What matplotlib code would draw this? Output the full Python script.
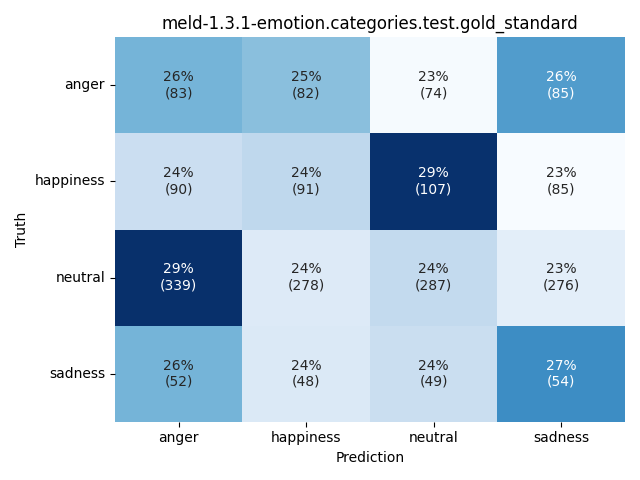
import numpy as np
import matplotlib
matplotlib.use('Agg')
import matplotlib.pyplot as plt
import seaborn as sns

# confusion matrix counts (rows = truth, cols = prediction)
labels = ['anger', 'happiness', 'neutral', 'sadness']
counts = np.array([
    [83, 82, 74, 85],
    [90, 91, 107, 85],
    [339, 278, 287, 276],
    [52, 48, 49, 54],
])

# row-normalised percentages
pct = counts / counts.sum(axis=1, keepdims=True) * 100
annot = np.array([[f"{p:.0f}%\n({c})" for p, c in zip(prow, crow)]
                  for prow, crow in zip(pct, counts)])

fig, ax = plt.subplots(figsize=(6.4, 4.8), dpi=100)
sns.heatmap(pct, annot=annot, fmt='', cmap='Blues', cbar=False,
            xticklabels=labels, yticklabels=labels, ax=ax)
ax.set_yticklabels(labels, rotation=0)
ax.set_xlabel('Prediction')
ax.set_ylabel('Truth')
ax.set_title('meld-1.3.1-emotion.categories.test.gold_standard')
plt.tight_layout()
plt.savefig('out.png', dpi=100)
